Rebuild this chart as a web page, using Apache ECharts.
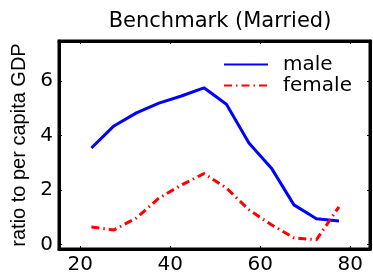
<!DOCTYPE html>
<html>
<head>
<meta charset="utf-8">
<script src="https://cdn.jsdelivr.net/npm/echarts@6/dist/echarts.min.js"></script>
<style>
html,body{margin:0;padding:0;background:#fff;}
#c{width:373px;height:277px;}
</style>
</head>
<body>
<div id="c"></div>
<script>
var ages = [22.5, 27.5, 32.5, 37.5, 42.5, 47.5, 52.5, 57.5, 62.5, 67.5, 72.5, 77.5];
var male = [3.54, 4.35, 4.83, 5.19, 5.45, 5.75, 5.15, 3.72, 2.8, 1.45, 0.94, 0.86];
var female = [0.64, 0.53, 0.97, 1.7, 2.18, 2.6, 2.07, 1.27, 0.72, 0.24, 0.17, 1.38];
var xTicks = [20, 40, 60, 80];
var yTicks = [0, 2, 4, 6];

function pairs(xs, ys) { return xs.map(function (x, i) { return [x, ys[i]]; }); }

var WIDE = 'DejaVu Sans';
var FONT = 'Liberation Sans';
var chart = echarts.init(document.getElementById('c'), null, {renderer: 'canvas'});
var axisLineStyle = {color: '#000', width: 3};
chart.setOption({
  animation: false,
  backgroundColor: '#fff',
  title: {
    text: 'Benchmark (Married)',
    left: 215, top: 6, textAlign: 'center',
    textStyle: {fontFamily: WIDE, fontSize: 21, fontWeight: 'normal', color: '#000'}
  },
  legend: {
    orient: 'vertical', left: 218, top: 49,
    itemWidth: 44, itemHeight: 14, itemGap: 0,
    itemStyle: {opacity: 0},
    textStyle: {fontFamily: WIDE, fontSize: 20, lineHeight: 21, color: '#000', padding: [0, 0, 0, 10]},
    data: ['male', 'female']
  },
  grid: {left: 59, right: 3, top: 41, bottom: 28, show: true, borderColor: '#000', borderWidth: 3, containLabel: false},
  xAxis: [{
    type: 'value', min: 15.3, max: 84.4, position: 'bottom',
    axisLine: {show: true, onZero: false, lineStyle: axisLineStyle},
    splitLine: {show: false},
    axisTick: {show: true, inside: true, length: 3, lineStyle: {color: '#000', width: 1}, customValues: xTicks},
    axisLabel: {fontFamily: WIDE, fontSize: 20, color: '#000', margin: 6, customValues: xTicks}
  }, {
    type: 'value', min: 15.3, max: 84.4, position: 'top',
    axisLine: {show: true, onZero: false, lineStyle: axisLineStyle},
    splitLine: {show: false},
    axisTick: {show: true, inside: true, length: 3, lineStyle: {color: '#000', width: 1}, customValues: xTicks},
    axisLabel: {show: false}
  }],
  yAxis: [{
    type: 'value', min: -0.17, max: 7.47, position: 'left',
    name: 'ratio to per capita GDP', nameLocation: 'middle', nameGap: 26,
    nameTextStyle: {fontFamily: FONT, fontSize: 20, color: '#000'},
    axisLine: {show: true, onZero: false, lineStyle: axisLineStyle},
    splitLine: {show: false},
    axisTick: {show: true, inside: true, length: 3, lineStyle: {color: '#000', width: 1}, customValues: yTicks},
    axisLabel: {fontFamily: WIDE, fontSize: 20, color: '#000', margin: 6, customValues: yTicks}
  }, {
    type: 'value', min: -0.17, max: 7.47, position: 'right',
    axisLine: {show: true, onZero: false, lineStyle: axisLineStyle},
    splitLine: {show: false},
    axisTick: {show: true, inside: true, length: 3, lineStyle: {color: '#000', width: 1}, customValues: yTicks},
    axisLabel: {show: false}
  }],
  series: [{
    name: 'male', type: 'line', data: pairs(ages, male),
    symbol: 'none', smooth: false,
    lineStyle: {color: '#0000ff', width: 3},
    itemStyle: {color: '#0000ff'}
  }, {
    name: 'female', type: 'line', data: pairs(ages, female),
    symbol: 'none', smooth: false,
    lineStyle: {color: '#ff0000', width: 3, type: [8, 4, 1.5, 4]},
    itemStyle: {color: '#ff0000'}
  }]
});
</script>
</body>
</html>
